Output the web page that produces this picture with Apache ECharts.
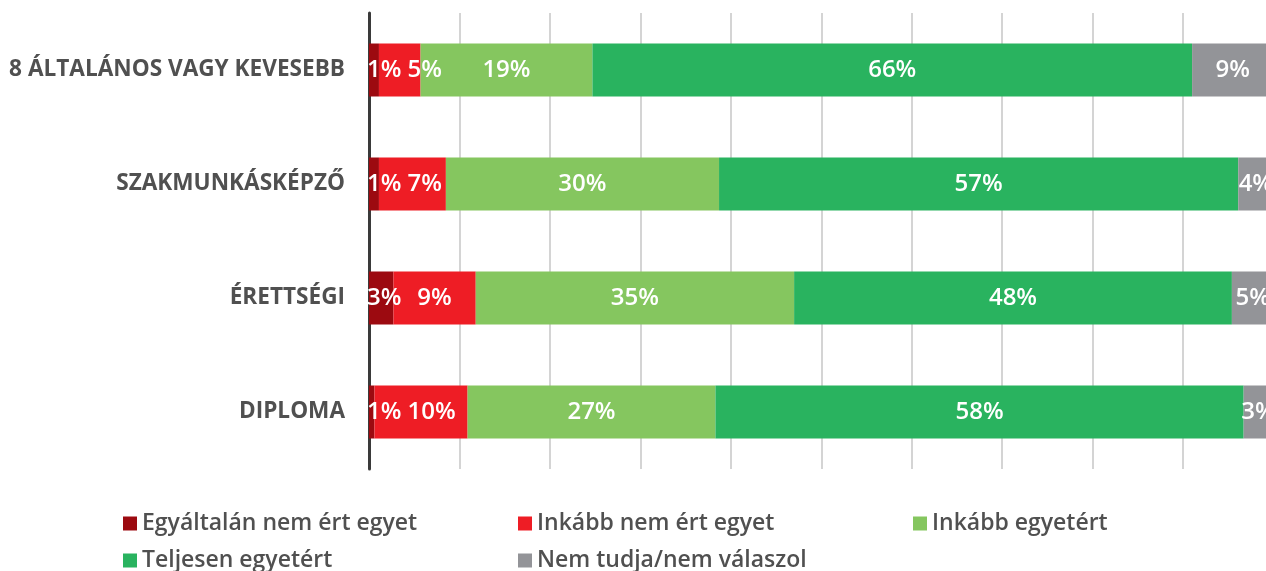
<!DOCTYPE html>
<html>
<head>
<meta charset="utf-8">
<script src="https://cdn.jsdelivr.net/npm/echarts@6/dist/echarts.min.js"></script>
<style>
  html, body { margin: 0; padding: 0; background: #ffffff; overflow: hidden; }
  /* the chart runs a little past the right edge of the window, as in the original */
  #chart { width: 1280px; height: 571px; }
</style>
</head>
<body>
<div id="chart"></div>
<script>
const categories = ["8 ÁLTALÁNOS VAGY KEVESEBB", "SZAKMUNKÁSKÉPZŐ", "ÉRETTSÉGI", "DIPLOMA"];
const seriesNames = ["Egyáltalán nem ért egyet", "Inkább nem ért egyet", "Inkább egyetért", "Teljesen egyetért", "Nem tudja/nem válaszol"];

// shares in %
const egyaltalanNem = [1.1, 1.1, 2.7, 0.6];
const inkabbNem = [4.6, 7.4, 9.1, 10.3];
const inkabbIgen = [19.0, 30.2, 35.2, 27.4];
const teljesenIgen = [66.3, 57.4, 48.4, 58.4];
const nemTudja = [9.0, 3.9, 4.6, 3.3];

const xTicks = [0, 100, 10];

const colors = ['#9c0a10', '#ee1d25', '#85c65f', '#29b35f', '#939498'];
const fontFamily = '"Open Sans", "Noto Sans", sans-serif';
const gridLeft = 369;

const chart = echarts.init(document.getElementById('chart'));

// labels of thin segments get pushed right so they do not run over each other
let lastRight = {};
function pushLabels(params) {
  const key = params.dataIndex;
  if (params.seriesIndex === 0 || lastRight[key] == null) {
    lastRight[key] = gridLeft - 8;
  }
  const r = params.labelRect;
  const need = Math.max(0, lastRight[key] + 6 - r.x);
  lastRight[key] = r.x + need + r.width;
  return { dx: need };
}

function makeSeries(name, data) {
  return {
    name: name,
    type: 'bar',
    stack: 'total',
    barWidth: 53,
    data: data,
    label: {
      show: true,
      position: 'inside',
      color: '#ffffff',
      fontFamily: fontFamily,
      fontWeight: 600,
      fontSize: 24,
      formatter: function (p) {
        return Math.round(p.value) + '%';
      },
    },
    labelLayout: pushLabels,
  };
}

const options = {
  color: colors,
  animation: false,
  grid: {
    left: gridLeft,
    top: 13,
    right: 6.5,
    height: 456,
  },
  legend: {
    data: seriesNames,
    left: 123,
    top: 510,
    width: 1190,
    padding: 0,
    itemWidth: 14,
    itemHeight: 14,
    itemGap: 10,
    icon: 'rect',
    textStyle: {
      color: '#505050',
      fontFamily: fontFamily,
      fontWeight: 600,
      fontSize: 23,
      width: 366,
      height: 27,
      lineHeight: 27,
    },
  },
  xAxis: {
    type: 'value',
    min: xTicks[0],
    max: xTicks[1],
    interval: xTicks[2],
    axisLabel: { show: false },
    axisTick: { show: false },
    axisLine: { show: false },
    splitLine: {
      lineStyle: { color: '#d4d4d4', width: 2 },
    },
  },
  yAxis: {
    type: 'category',
    data: categories,
    inverse: true,
    axisTick: { show: false },
    axisLine: {
      lineStyle: { color: '#3a3a3a', width: 3 },
    },
    axisLabel: {
      margin: 24,
      color: '#505050',
      fontFamily: fontFamily,
      fontWeight: 'bold',
      fontSize: 22.6,
    },
  },
  series: [
    makeSeries(seriesNames[0], egyaltalanNem),
    makeSeries(seriesNames[1], inkabbNem),
    makeSeries(seriesNames[2], inkabbIgen),
    makeSeries(seriesNames[3], teljesenIgen),
    makeSeries(seriesNames[4], nemTudja),
  ],
};

chart.setOption(options);
</script>
</body>
</html>
